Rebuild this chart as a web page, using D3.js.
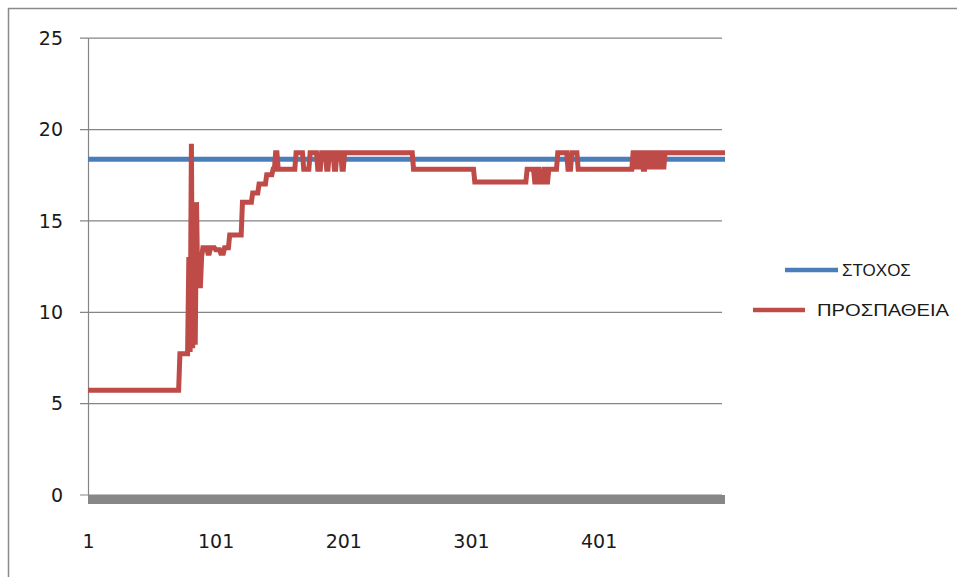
<!DOCTYPE html>
<html>
<head>
<meta charset="utf-8">
<script src="https://cdn.jsdelivr.net/npm/d3@7/dist/d3.min.js"></script>
<style>
  html, body { margin: 0; padding: 0; background: #fff; }
  svg { display: block; }
</style>
</head>
<body>
<svg id="chart" width="957" height="577"></svg>
<script>
// Category count (attempt number 1..500)
const categoryCount = 500;
// Horizontal tick labels
const xTickValues = [1, 101, 201, 301, 401];
// Vertical tick labels
const yTickValues = [0, 5, 10, 15, 20, 25];
// Series names
const seriesNames = ["ΣΤΟΧΟΣ", "ΠΡΟΣΠΑΘΕΙΑ"];
// Target level (constant)
const targetLevel = 18.35;
// Attempt series as runs: the category where each run starts and the value held from it
const attemptRunStart = [
  1, 73, 80, 81, 82, 83, 84, 85, 86, 87, 88, 89, 90, 91, 95, 97, 101, 105, 108, 112,
  122, 130, 135, 141, 146, 148, 150, 164, 170, 175, 181, 184, 188, 190, 194, 196, 200, 202,
  256, 304, 345, 351, 353, 355, 358, 360, 362, 369, 377, 380, 385,
  428, 430, 431, 433, 434, 436, 438, 440, 441, 443, 444, 446, 447, 449, 450, 452, 453
];
const attemptRunValue = [
  5.7, 7.7, 13.0, 7.8, 19.2, 8.0, 16.0, 8.2, 16.0, 11.3, 12.8, 11.3, 13.0, 13.5, 13.2, 13.5, 13.4, 13.2, 13.5, 14.2,
  16.0, 16.5, 17.0, 17.5, 17.8, 18.7, 17.8, 18.7, 17.8, 18.7, 17.8, 18.7, 17.8, 18.7, 17.8, 18.7, 17.8, 18.7,
  17.8, 17.1, 17.8, 17.1, 17.8, 17.1, 17.8, 17.1, 17.8, 18.7, 17.8, 18.7, 17.8,
  18.7, 17.8, 18.7, 17.8, 18.7, 17.8, 18.7, 17.8, 18.7, 17.8, 18.7, 17.8, 18.7, 17.8, 18.7, 17.8, 18.7
];

// Expand the runs into one value per category
const categories = d3.range(1, categoryCount + 1);
const attemptSeries = categories.map(c => {
  const i = d3.bisectRight(attemptRunStart, c) - 1;
  return { c, v: attemptRunValue[i] };
});
const targetSeries = categories.map(c => ({ c, v: targetLevel }));
const baseSeries = categories.map(c => ({ c, v: 0 }));

const svg = d3.select("#chart");

// Outer frame (right and bottom edges run past the page)
svg.append("rect")
  .attr("x", 8.5).attr("y", 8.5)
  .attr("width", 960).attr("height", 580)
  .attr("fill", "none").attr("stroke", "#8a8a8a").attr("stroke-width", 1.5);

const plot = { left: 88, right: 725, top: 37.7, bottom: 494.5 };

const x = d3.scaleLinear().domain([1, categoryCount]).range([plot.left, plot.right]);
const y = d3.scaleLinear().domain([0, 25]).range([plot.bottom, plot.top]);

// Horizontal gridlines with outward ticks and labels
const yAxis = d3.axisLeft(y)
  .tickValues(yTickValues)
  .tickSize(-(plot.right - 3 - plot.left))
  .tickSizeOuter(0)
  .tickPadding(24)
  .tickFormat(d3.format("d"));

const gy = svg.append("g")
  .attr("transform", `translate(${plot.left},0)`)
  .call(yAxis);
gy.select(".domain").attr("stroke", "#858585").attr("stroke-width", 1.2);
gy.selectAll(".tick line").attr("stroke", "#858585").attr("stroke-width", 1.2)
  .attr("x1", -8);
gy.selectAll(".tick text")
  .attr("font-family", "'DejaVu Sans', Verdana, sans-serif")
  .attr("font-size", 19)
  .attr("fill", "#1a1a1a")
  .attr("x", -25)
  .attr("dy", "0.36em");

// Category axis labels
const xAxis = d3.axisBottom(x)
  .tickValues(xTickValues)
  .tickSize(0)
  .tickPadding(0)
  .tickFormat(d3.format("d"));
const gx = svg.append("g")
  .attr("transform", `translate(0,${plot.bottom})`)
  .call(xAxis);
gx.select(".domain").remove();
gx.selectAll(".tick text")
  .attr("font-family", "'DejaVu Sans', Verdana, sans-serif")
  .attr("font-size", 19)
  .attr("fill", "#1a1a1a")
  .attr("y", 53)
  .attr("dy", 0);

const line = d3.line()
  .x(d => x(d.c))
  .y(d => y(d.v))
  .curve(d3.curveLinear);

// Zero baseline drawn as a heavy grey band
svg.append("path")
  .datum(baseSeries)
  .attr("d", line)
  .attr("transform", "translate(0,5)")
  .attr("fill", "none")
  .attr("stroke", "#878787")
  .attr("stroke-width", 9);

// Target series
svg.append("path")
  .datum(targetSeries)
  .attr("d", line)
  .attr("fill", "none")
  .attr("stroke", "#4a7ebb")
  .attr("stroke-width", 5);

// Attempt series
svg.append("path")
  .datum(attemptSeries)
  .attr("d", line)
  .attr("fill", "none")
  .attr("stroke", "#be4b48")
  .attr("stroke-width", 5)
  .attr("stroke-linejoin", "miter")
  .attr("stroke-miterlimit", 2);

// Legend
const legendItems = [
  { name: seriesNames[0], color: "#4a7ebb", x1: 785, x2: 838, tx: 842, ty: 270, len: null },
  { name: seriesNames[1], color: "#be4b48", x1: 753, x2: 805, tx: 817, ty: 310, len: 132 }
];
const lg = svg.append("g");
legendItems.forEach(it => {
  lg.append("line")
    .attr("x1", it.x1).attr("x2", it.x2)
    .attr("y1", it.ty).attr("y2", it.ty)
    .attr("stroke", it.color).attr("stroke-width", 4.5);
  const t = lg.append("text")
    .attr("x", it.tx).attr("y", it.ty)
    .attr("dy", "0.36em")
    .attr("font-family", "'Liberation Sans', Arial, sans-serif")
    .attr("font-size", 17)
    .attr("fill", "#1a1a1a")
    .text(it.name);
  if (it.len) {
    t.attr("textLength", it.len).attr("lengthAdjust", "spacingAndGlyphs");
  }
});
</script>
</body>
</html>
